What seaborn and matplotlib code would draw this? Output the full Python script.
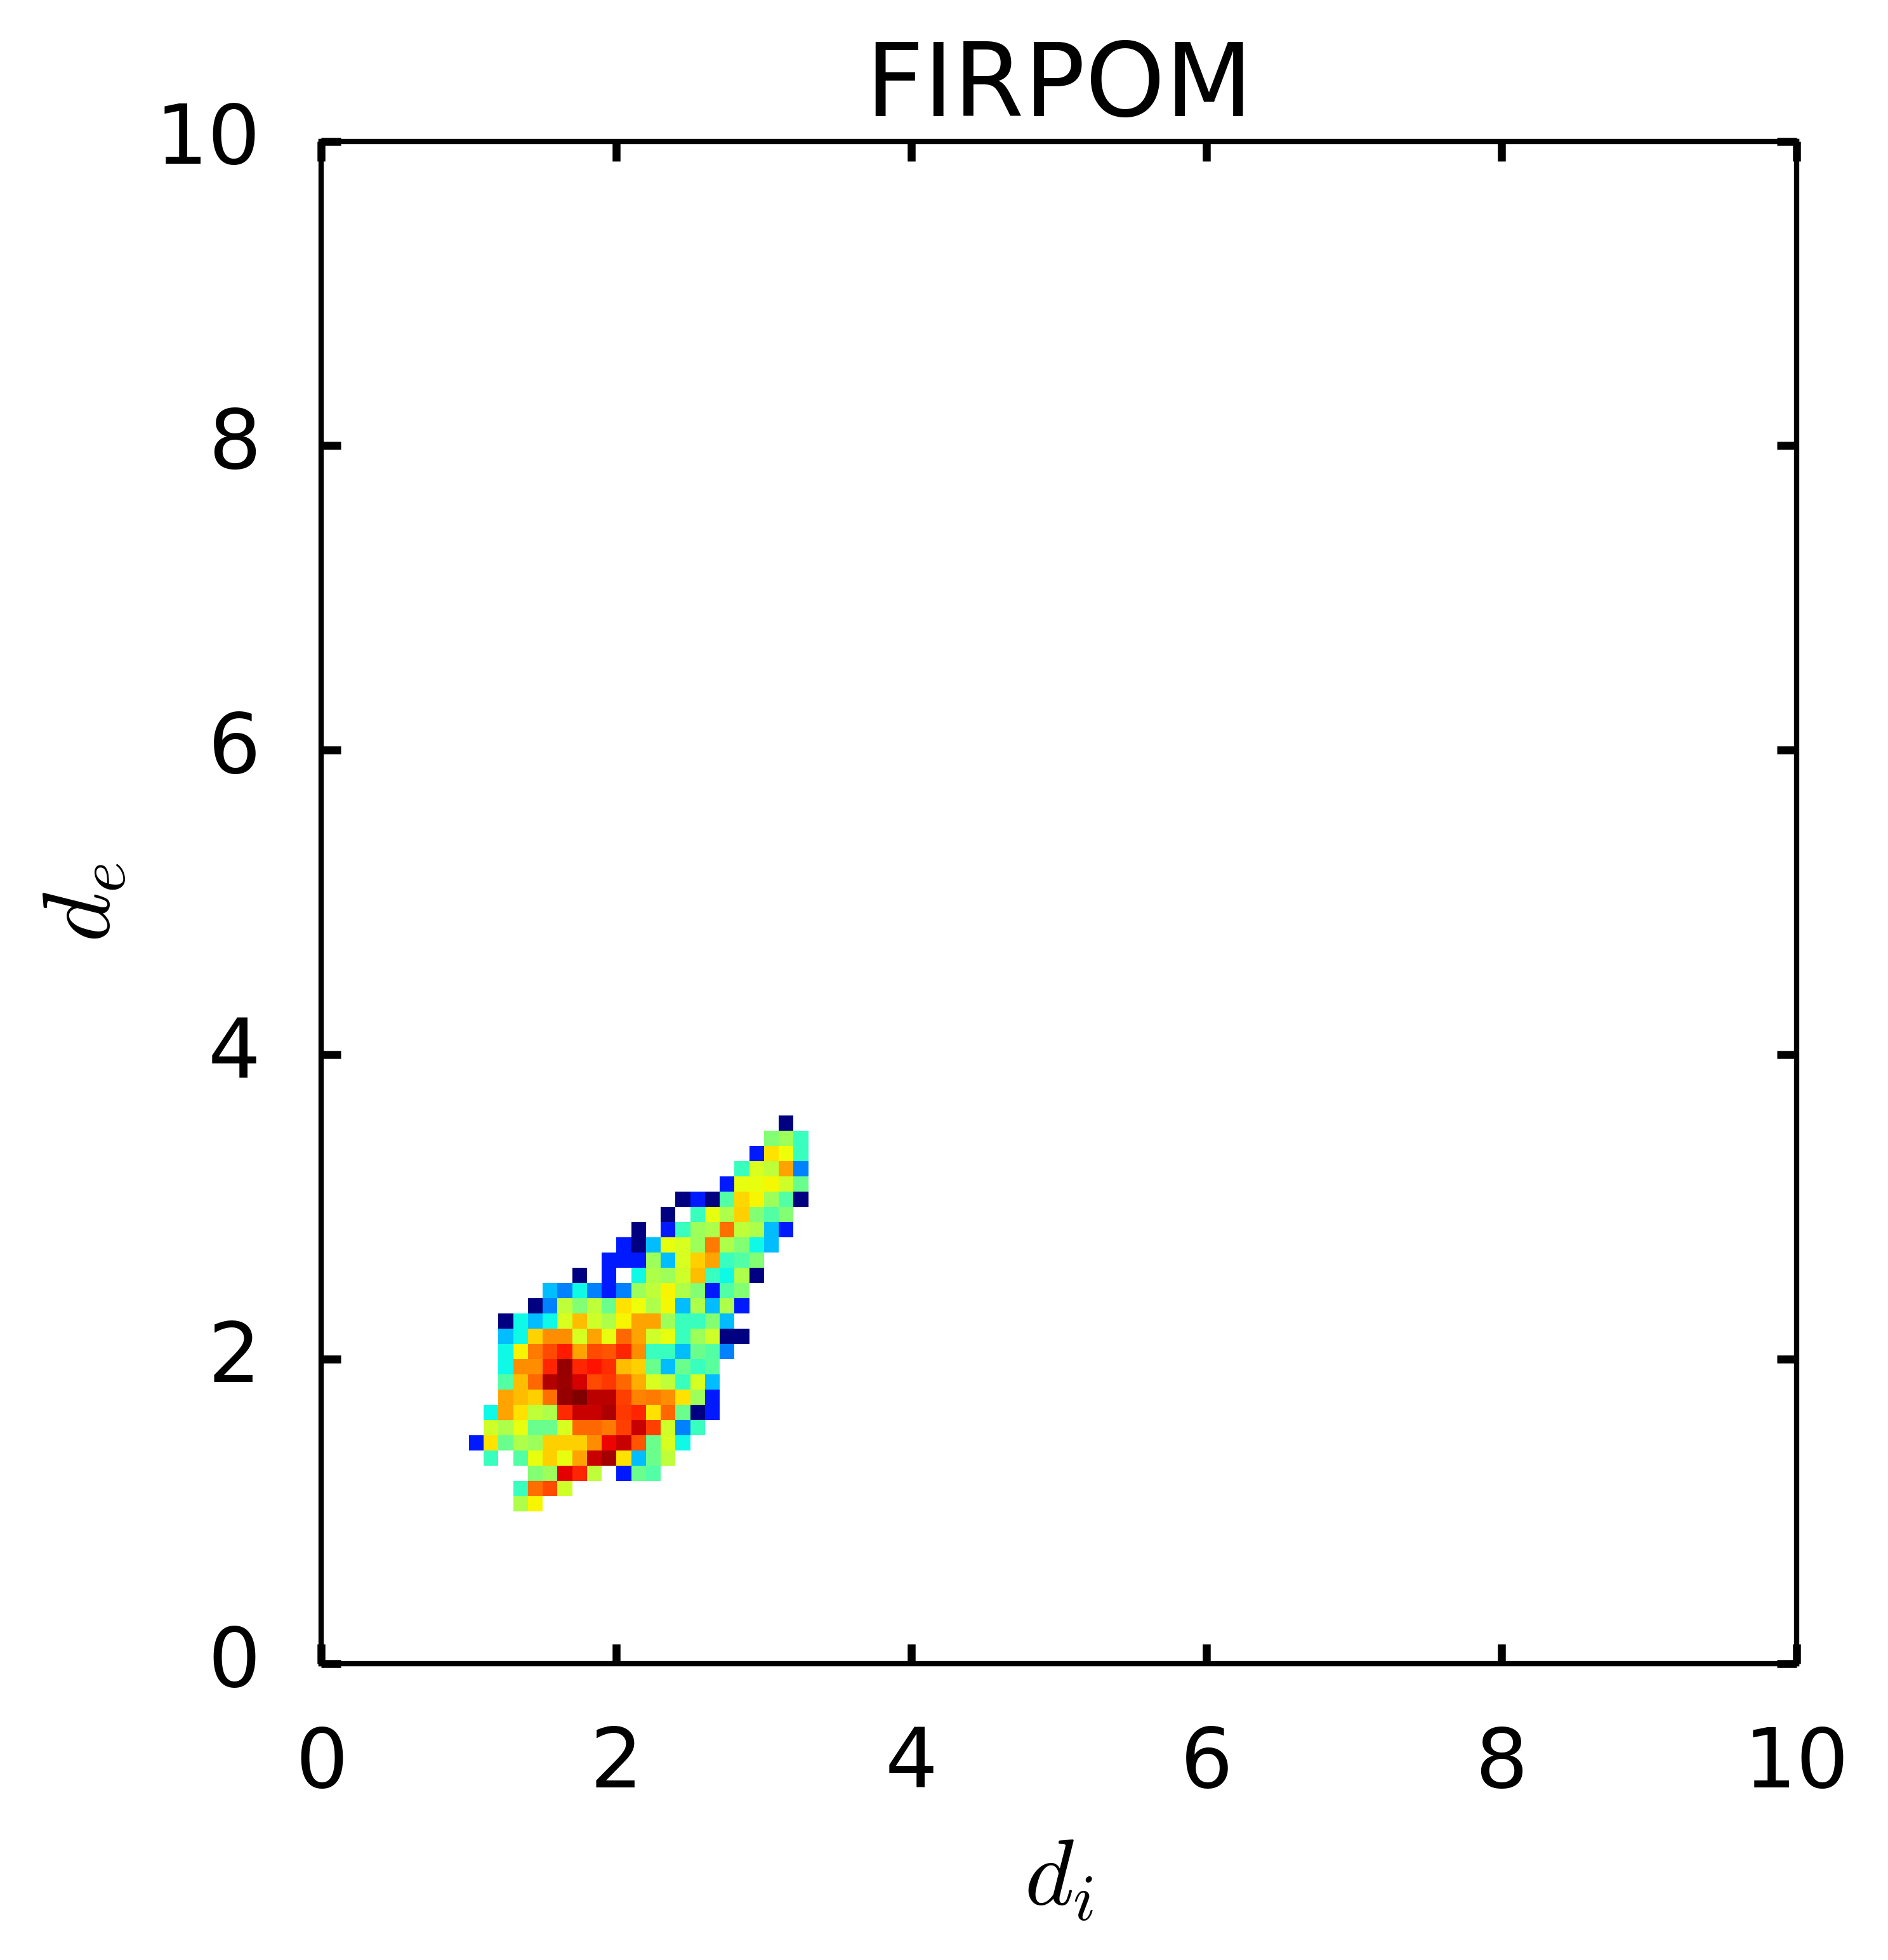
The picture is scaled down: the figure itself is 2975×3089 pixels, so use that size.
import numpy as np
import pandas as pd
import matplotlib
matplotlib.use("Agg")
import matplotlib.pyplot as plt
import seaborn as sns

# Each row: first d_i bin (0.1 wide), then normalised density; None = empty bin
row_10 = (13, [.56, .65])
row_11 = (13, [.42, .79, .83, .60])
row_12 = (14, [.51, .54, .912, .87, .58, None, .15, .48, .45])
row_13 = (11, [.42, None, .45, .63, .69, .63, .735, .935, .965, .67, .31, .48, .58])
row_14 = (10, [.15, .67, .48, .56, .54, .69, .69, .69, .76, .903, .935, .82, .48, .61, .37])
row_15 = (11, [.60, .56, .63, .48, .48, .61, .80, .80, .78, .84, .935, .84, .60, .25, .42])
row_16 = (11, [.37, .735, .67, .58, .56, .865, .935, .935, .96, .85, .87, .67, .80, .48, 0, .15])
row_17 = (12, [.735, .71, .69, .79, .98, 1.0, .946, .946, .84, .77, .78, .76, .67, .54, .15])
row_18 = (12, [.45, .71, .80, .955, .975, .925, .83, .85, .80, .725, .61, .58, .42, .61, .31])
row_19 = (12, [.37, .76, .76, .87, .98, .87, .89, .86, .71, .69, .48, .31, .48, .42, .46])
row_20 = (12, [.37, .65, .78, .83, .88, .735, .83, .82, .87, .76, .42, .42, .31, .48, .45, .25])
row_21 = (12, [.31, .37, .685, .76, .76, .61, .735, .63, .80, .735, .60, .63, .42, .54, .60, 0, 0])
row_22 = (12, [0, .37, .31, .37, .61, .71, .60, .56, .65, .735, .735, .54, .42, .42, .51, .31])
row_23 = (14, [0, .25, .58, .51, .58, .48, .67, .64, .56, .645, .31, .56, .31, .56, .15])
row_24 = (15, [.31, .25, .37, .25, .15, .25, .54, .58, .65, .56, .51, .15, .45, .51])
row_25 = (17, [0, None, .15, None, .37, .56, .54, .60, .71, .42, .37, .56, 0])
row_26 = (19, [.15, .15, .15, .54, .31, .61, .69, .735, .42, .45, .51])
row_27 = (20, [.15, 0, .31, .63, .61, .54, .78, .56, .51, .37, .31])
row_28 = (21, [0, None, .15, .42, .54, .56, .79, .58, .56, .31, .15])
row_29 = (23, [0, None, .42, .63, .56, .69, .51, .45, .51])
row_30 = (24, [0, .15, 0, .45, .68, .65, .54, .45, 0])
row_31 = (27, [.15, .63, .63, .645, .60, .48])
row_32 = (28, [.42, .615, .58, .735, .25])
row_33 = (29, [.15, .67, .64, .42])
row_34 = (30, [.51, .54, .42])
row_35 = (31, [0])

rows = {10: row_10, 11: row_11, 12: row_12, 13: row_13, 14: row_14, 15: row_15,
        16: row_16, 17: row_17, 18: row_18, 19: row_19, 20: row_20, 21: row_21,
        22: row_22, 23: row_23, 24: row_24, 25: row_25, 26: row_26, 27: row_27,
        28: row_28, 29: row_29, 30: row_30, 31: row_31, 32: row_32, 33: row_33,
        34: row_34, 35: row_35}

tick_values = [0, 2, 4, 6, 8, 10]
title = "FIRPOM"
x_label = r"$d_i$"
y_label = r"$d_e$"

n_bins = 100
bin_width = 0.1

grid = np.full((n_bins, n_bins), np.nan)
for r, (start, vals) in rows.items():
    for k, v in enumerate(vals):
        if v is not None:
            grid[r, start + k] = v

frame = pd.DataFrame(grid)

sns.set_theme(style="white")
plt.rcParams["font.family"] = ["DejaVu Sans"]
plt.rcParams["mathtext.fontset"] = "cm"

fig = plt.figure(figsize=(2975 / 300, 3089 / 300), dpi=300)
ax = fig.add_axes([506.5 / 2975, 1 - 2622 / 3089, (2831 - 506.5) / 2975, (2622 - 222.5) / 3089])

sns.heatmap(frame, ax=ax, cmap="jet", vmin=0, vmax=1, cbar=False,
            xticklabels=False, yticklabels=False, linewidths=0)
for coll in ax.collections:
    coll.set_antialiased(False)

ax.set_xlim(0, n_bins)
ax.set_ylim(0, n_bins)

positions = [t / bin_width for t in tick_values]
ax.set_xticks(positions)
ax.set_yticks(positions)
ax.set_xticklabels([str(t) for t in tick_values], rotation=0)
ax.set_yticklabels([str(t) for t in tick_values], rotation=0, va="center")
ax.tick_params(axis="both", which="major", direction="in", length=7.5, width=3,
               top=True, right=True, bottom=True, left=True,
               labelsize=31.3, labelcolor="black", color="black", pad=23)

for s in ax.spines.values():
    s.set_visible(True)
    s.set_linewidth(2)
    s.set_color("black")

ax.set_title(title, fontsize=38.4, color="black", pad=9.5)
ax.set_xlabel(x_label, fontsize=35.5, color="black", labelpad=10.5)
ax.set_ylabel(y_label, fontsize=36, color="black", labelpad=10)

fig.savefig("out.png", dpi=300, facecolor="white")
